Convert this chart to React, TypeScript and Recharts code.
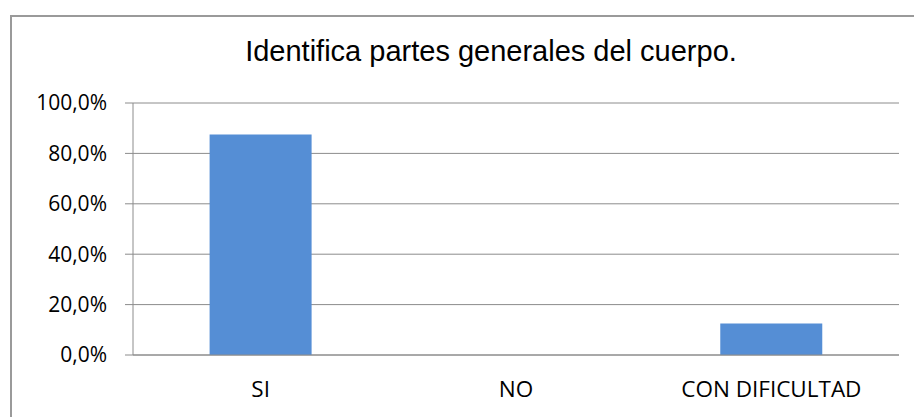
import { Bar, BarChart, CartesianGrid, XAxis, YAxis } from 'recharts';

const categories = ['SI', 'NO', 'CON DIFICULTAD'];
const shares = [0.875, 0, 0.125];
const yTicks = [0, 0.2, 0.4, 0.6, 0.8, 1];
// category boundaries, where the axis tick marks sit
const boundaryTicks = [0, 1, 2, 3];
const boundaryDomain = [0, 3];
const shareDomain = [0, 1];

const data = categories.map((name, i) => ({ name, share: shares[i] }));

const pct = (v: number) => `${(v * 100).toFixed(1).replace('.', ',')}%`;

const gray = '#8c8c8c';
const lineStyle = { stroke: gray };
const xTickStyle = { fill: '#000', fontSize: 22.5, fontFamily: '"Open Sans", sans-serif' };
const yTickStyle = { fill: '#000', fontSize: 21, fontFamily: '"Open Sans", sans-serif' };
const chartMargin = { top: 103, right: 15, left: 0, bottom: 0 };

export default function App() {
  return (
    <div
      style={{
        position: 'absolute',
        left: 0,
        top: 0,
        width: 914,
        height: 417,
        overflow: 'hidden',
        background: '#fff',
      }}
    >
      <div
        style={{
          position: 'absolute',
          left: 10,
          top: 15,
          width: 920,
          height: 420,
          borderLeft: '2px solid #9a9a9a',
          borderTop: '2px solid #9a9a9a',
        }}
      />
      <div
        style={{
          position: 'absolute',
          left: 491,
          top: 37,
          transform: 'translateX(-50%)',
          whiteSpace: 'nowrap',
          fontFamily: '"Liberation Sans", Arial, sans-serif',
          fontSize: 29,
          lineHeight: '29px',
          color: '#000',
        }}
      >
        Identifica partes generales del cuerpo.
      </div>
      <div style={{ position: 'absolute', left: 0, top: 0 }}>
        <BarChart width={914} height={417} data={data} margin={chartMargin} barCategoryGap="30%">
          <CartesianGrid xAxisId="b-cat" vertical={false} stroke={gray} strokeWidth={1} />
          <XAxis
            xAxisId="a-marks"
            type="number"
            domain={boundaryDomain}
            allowDataOverflow
            ticks={boundaryTicks}
            tick={false}
            tickSize={8}
            tickLine={lineStyle}
            axisLine={lineStyle}
            height={1}
          />
          <XAxis
            xAxisId="b-cat"
            dataKey="name"
            height={61}
            tickLine={false}
            tickSize={0}
            tickMargin={25}
            axisLine={false}
            tick={xTickStyle}
          />
          <YAxis
            width={133}
            domain={shareDomain}
            ticks={yTicks}
            tickFormatter={pct}
            tickSize={8}
            tickMargin={18}
            tickLine={lineStyle}
            axisLine={lineStyle}
            tick={yTickStyle}
          />
          <Bar xAxisId="b-cat" dataKey="share" fill="#558ed5" isAnimationActive={false} />
        </BarChart>
      </div>
    </div>
  );
}
